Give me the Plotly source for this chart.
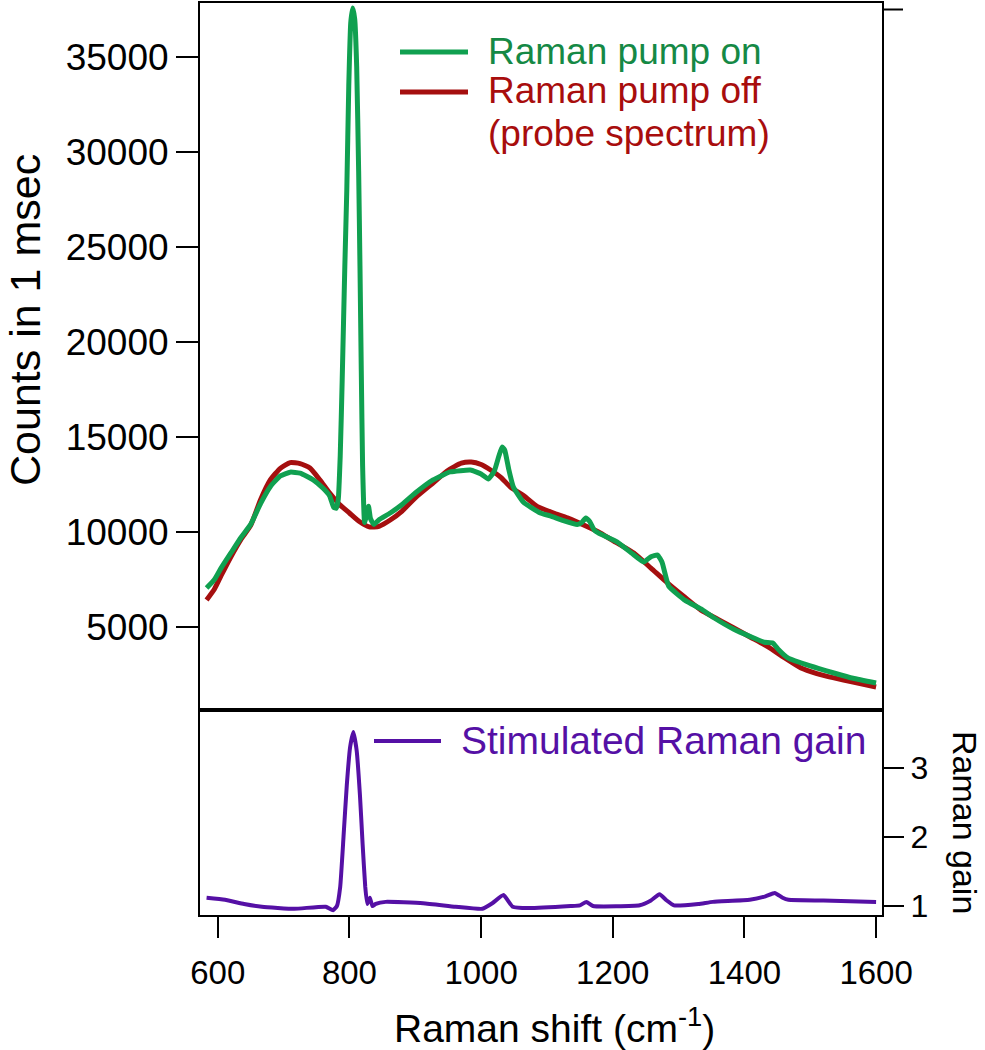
import plotly.graph_objects as go

# ---------------- data ----------------
x_off = [583, 595, 605, 620, 635, 650, 665, 680, 695, 710, 725, 740, 755, 770, 785, 800,
         815, 830, 845, 862, 880, 900, 927, 950, 970, 985, 1000, 1015, 1030, 1045, 1065,
         1085, 1110, 1131, 1160, 1181, 1205, 1232, 1258, 1283, 1310, 1334, 1360, 1384,
         1410, 1436, 1460, 1486, 1510, 1536, 1565, 1600]
pump_off = [6420, 7000, 7700, 8700, 9600, 10350, 11700, 12750, 13350, 13650, 13600, 13370,
            12750, 12050, 11450, 11000, 10550, 10270, 10300, 10630, 11100, 11800, 12580,
            13250, 13620, 13680, 13550, 13250, 12880, 12350, 11900, 11350, 11000, 10740,
            10300, 9950, 9450, 8890, 8100, 7320, 6550, 5890, 5400, 4950, 4450, 3950, 3400,
            2840, 2550, 2320, 2100, 1840]

x_on = [583, 595, 605, 620, 635, 650, 665, 680, 695, 710, 725, 745, 760, 770, 776, 780,
        783, 786, 789, 793, 796, 799, 802, 805, 808, 811, 814, 816, 818, 820, 823, 826,
        829, 832, 837, 845, 862, 880, 900, 927, 953, 984, 1000, 1011, 1020, 1027, 1032,
        1036, 1042, 1049, 1064, 1090, 1105, 1125, 1146, 1153, 1159, 1165, 1172, 1178,
        1207, 1230, 1247, 1258, 1268, 1275, 1285, 1310, 1334, 1353, 1384, 1410, 1430,
        1443, 1452, 1466, 1500, 1536, 1565, 1600]
pump_on = [7050, 7500, 8100, 8900, 9700, 10400, 11500, 12400, 12950, 13150, 13100, 12740,
           12300, 11900, 11300, 11250, 11700, 14000, 18000, 24000, 28000, 33500, 36800,
           37580, 37000, 34500, 29000, 24000, 18500, 13500, 10500, 10900, 11350, 10700,
           10400, 10650, 11000, 11450, 12050, 12740, 13160, 13260, 13050, 12790, 13200,
           14000, 14470, 14300, 13300, 12370, 11580, 11000, 10850, 10600, 10400, 10500,
           10740, 10550, 10100, 9950, 9470, 8850, 8420, 8700, 8790, 8400, 7150, 6400,
           5950, 5500, 4880, 4480, 4200, 4160, 3800, 3370, 2950, 2580, 2300, 2050]

x_gain = [583, 611, 640, 667, 716, 764, 775, 781, 786, 791, 796, 801, 806, 811, 816, 820,
          824, 827, 831, 835, 840, 855, 912, 961, 1002, 1017, 1034, 1048, 1072, 1136, 1150,
          1160, 1170, 1241, 1258, 1271, 1282, 1293, 1330, 1352, 1408, 1432, 1446, 1458,
          1467, 1520, 1600]
gain = [1.12, 1.09, 1.03, 0.99, 0.96, 0.99, 0.94, 1.0, 1.28, 2.0, 2.75, 3.3, 3.52, 3.25,
        2.6, 1.9, 1.28, 1.03, 1.12, 1.0, 1.03, 1.06, 1.04, 0.99, 0.96, 1.04, 1.16, 0.99,
        0.97, 1.0, 1.01, 1.06, 1.0, 1.01, 1.08, 1.17, 1.08, 1.01, 1.03, 1.06, 1.09, 1.14,
        1.19, 1.12, 1.09, 1.08, 1.06]

x_ticks = [600, 800, 1000, 1200, 1400, 1600]
count_ticks = [5000, 10000, 15000, 20000, 25000, 30000, 35000]
count_tick_labels = [str(v) for v in count_ticks]
gain_ticks = [1, 2, 3]
top_right_tick = 37500

GREEN = "#10a050"
GREEN_TXT = "#158945"
RED = "#a50f0f"
RED_TXT = "#a80d0d"
PURPLE = "#5510a5"
FONT = "Liberation Sans, Arial, sans-serif"

# plot-area geometry (pixels)
L, R, T, B = 200, 882, 3, 915
W, H = R - L, B - T


def px_x(p):
    return (p - L) / W


def px_y(p):
    return (B - p) / H


fig = go.Figure()
fig.add_trace(go.Scatter(x=x_off, y=pump_off, mode="lines", xaxis="x2", yaxis="y",
                         line=dict(color=RED, width=5, shape="spline", smoothing=0.5),
                         showlegend=False))
fig.add_trace(go.Scatter(x=x_on, y=pump_on, mode="lines", xaxis="x2", yaxis="y",
                         line=dict(color=GREEN, width=5, shape="spline", smoothing=0.4),
                         showlegend=False))
fig.add_trace(go.Scatter(x=x_gain, y=gain, mode="lines", xaxis="x", yaxis="y2",
                         line=dict(color=PURPLE, width=4, shape="spline", smoothing=0.4),
                         showlegend=False))

axis_common = dict(showgrid=False, zeroline=False, showline=True, linecolor="black",
                   linewidth=2, tickcolor="black", tickwidth=2, automargin=False)

fig.update_layout(
    width=985, height=1050,
    margin=dict(l=L, r=985 - R, t=T, b=1050 - B),
    paper_bgcolor="white", plot_bgcolor="white",
    font=dict(family=FONT, color="black"),
    xaxis=dict(**axis_common, domain=[0, 1], anchor="y2", range=[573, 1609],
               tickvals=x_ticks, ticks="outside", ticklen=21, mirror=True,
               ticklabelstandoff=6, tickfont=dict(size=33)),
    xaxis2=dict(**axis_common, domain=[0, 1], anchor="y", matches="x", range=[573, 1609],
                showticklabels=False, ticks="", mirror=True),
    yaxis=dict(**axis_common, domain=[px_y(708), 1], anchor="x2", range=[737, 37842],
               tickvals=count_ticks, ticktext=count_tick_labels, ticks="outside",
               ticklen=22, mirror=True, tickfont=dict(size=37)),
    yaxis2=dict(**axis_common, domain=[0, px_y(712)], anchor="x", side="right",
                range=[0.87, 3.81], tickvals=gain_ticks, ticks="outside", ticklen=20,
                mirror=True, tickfont=dict(size=32)),
)

# single unlabeled tick on the right edge of the upper panel
fig.add_shape(type="line", xref="paper", yref="y", x0=1, x1=1 + 21 / W,
              y0=top_right_tick, y1=top_right_tick, line=dict(color="black", width=2))

# axis titles
fig.add_annotation(x=px_x(25), y=px_y(320), xref="paper", yref="paper",
                   xanchor="center", yanchor="middle",
                   text="Counts in 1 msec", textangle=-90, showarrow=False,
                   font=dict(size=43, color="black"))
fig.add_annotation(x=px_x(965), y=px_y(823), xref="paper", yref="paper",
                   xanchor="center", yanchor="middle",
                   text="Raman gain", textangle=90, showarrow=False,
                   font=dict(size=34, color="black"))
fig.add_annotation(x=px_x(554), y=px_y(1025), xref="paper", yref="paper",
                   xanchor="center", yanchor="middle",
                   text="Raman shift (cm<sup>-1</sup>)", showarrow=False,
                   font=dict(size=39, color="black"))

# legend-like labels
legend_items = [
    (400, 468, 52, "Raman pump on", GREEN, GREEN_TXT, 5, 37),
    (400, 468, 92, "Raman pump off", RED, RED_TXT, 5, 37),
    (374, 441, 741, "Stimulated Raman gain", PURPLE, PURPLE, 4, 39),
]
for x0, x1, yy, label, lc, tc, lw, fs in legend_items:
    fig.add_shape(type="line", xref="paper", yref="paper",
                  x0=px_x(x0), x1=px_x(x1), y0=px_y(yy), y1=px_y(yy),
                  line=dict(color=lc, width=lw))
    fig.add_annotation(x=px_x(x1 + 18), y=px_y(yy - 1), xref="paper", yref="paper",
                       xanchor="left", yanchor="middle", text=label, showarrow=False,
                       font=dict(size=fs, color=tc))
fig.add_annotation(x=px_x(486), y=px_y(133), xref="paper", yref="paper",
                   xanchor="left", yanchor="middle", text="(probe spectrum)",
                   showarrow=False, font=dict(size=37, color=RED_TXT))

fig.write_html("out.html", config={"displayModeBar": False},
               post_script="document.body.style.margin='0px';")
